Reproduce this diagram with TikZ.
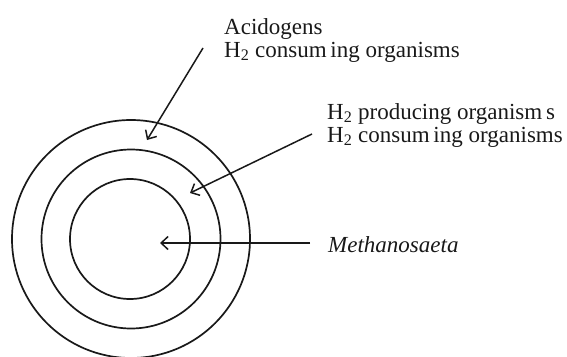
\documentclass[tikz,border=0pt]{standalone}
\usepackage{fontspec}
\setmainfont{Liberation Serif}
\usetikzlibrary{arrows.meta}
\begin{document}
\begin{tikzpicture}[x=1pt,y=-1pt,
  ring/.style={draw=black!90, line width=1.7pt},
  pointer/.style={draw=black!90, line width=1.5pt, -{Straight Barb[length=7pt,width=13pt]}},
  lbl/.style={anchor=base west, inner sep=0pt, font=\fontsize{23}{26}\selectfont, text=black!90}
]
\useasboundingbox (0,0) rectangle (567,356);
\clip (0,0) rectangle (567,356);
% rings
\node[ring, circle, minimum size=238pt, inner sep=0pt] (outer) at (131,239) {};
\node[ring, circle, minimum size=179pt, inner sep=0pt] (middle) at (131,239) {};
\node[ring, circle, minimum size=120pt, inner sep=0pt] (inner) at (130,239) {};
% labels
\node[lbl] (acid) at (224,34) {Acidogens};
\node[lbl] (cons1) at (224,57) {H\textsubscript{2} consum\,ing organisms};
\node[lbl] (prod) at (327,119) {H\textsubscript{2} producing organism\,s};
\node[lbl] (cons2) at (327,142) {H\textsubscript{2} consum\,ing organisms};
\node[lbl, font=\fontsize{23}{26}\selectfont\itshape] (meth) at (328,252) {Methanosaeta};
% arrow ends
\coordinate (s1) at (203,48);
\coordinate (t1) at (147,140);
\coordinate (s2) at (312,134);
\coordinate (t2) at (190,193);
\coordinate (s3) at (310,243);
\coordinate (t3) at (160,243);
\draw[pointer] (s1) -- (t1);
\draw[pointer] (s2) -- (t2);
\draw[pointer] (s3) -- (t3);
\end{tikzpicture}
\end{document}
